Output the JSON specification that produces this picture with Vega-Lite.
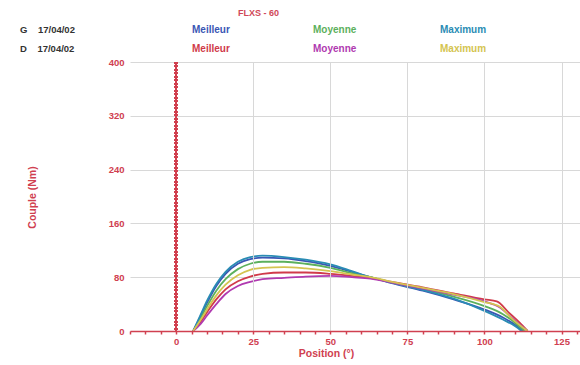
{
  "$schema": "https://vega.github.io/schema/vega-lite/v6.json",
  "width": 450,
  "height": 269,
  "autosize": "none",
  "padding": {"left": 130, "top": 62, "right": 0, "bottom": 34},
  "background": "white",
  "config": {"view": {"stroke": null}, "font": "Liberation Sans"},
  "title": {"text": "FLXS - 60", "anchor": "start", "frame": "group", "dx": 108, "offset": 7, "fontSize": 9, "color": "#d04858", "fontWeight": "bold"},
  "data": {"values": [
    {"s":"Meilleur G","x":5.5,"y":0},{"s":"Meilleur G","x":8,"y":23},{"s":"Meilleur G","x":10,"y":42},{"s":"Meilleur G","x":13,"y":67},{"s":"Meilleur G","x":16,"y":85},{"s":"Meilleur G","x":20,"y":100},{"s":"Meilleur G","x":24,"y":107},{"s":"Meilleur G","x":28,"y":109},{"s":"Meilleur G","x":35,"y":108},{"s":"Meilleur G","x":42,"y":104},{"s":"Meilleur G","x":50,"y":97},{"s":"Meilleur G","x":57,"y":88},{"s":"Meilleur G","x":63,"y":80},{"s":"Meilleur G","x":70,"y":71},{"s":"Meilleur G","x":80,"y":60},{"s":"Meilleur G","x":90,"y":47},{"s":"Meilleur G","x":100,"y":32},{"s":"Meilleur G","x":106,"y":20},{"s":"Meilleur G","x":110,"y":9},{"s":"Meilleur G","x":112.5,"y":0},
    {"s":"Moyenne G","x":5.5,"y":0},{"s":"Moyenne G","x":8,"y":20},{"s":"Moyenne G","x":10,"y":37},{"s":"Moyenne G","x":13,"y":60},{"s":"Moyenne G","x":16,"y":77},{"s":"Moyenne G","x":20,"y":92},{"s":"Moyenne G","x":24,"y":100},{"s":"Moyenne G","x":28,"y":103},{"s":"Moyenne G","x":35,"y":103},{"s":"Moyenne G","x":42,"y":100},{"s":"Moyenne G","x":50,"y":94},{"s":"Moyenne G","x":57,"y":86},{"s":"Moyenne G","x":63,"y":80},{"s":"Moyenne G","x":70,"y":72},{"s":"Moyenne G","x":80,"y":62},{"s":"Moyenne G","x":90,"y":51},{"s":"Moyenne G","x":100,"y":37},{"s":"Moyenne G","x":106,"y":25},{"s":"Moyenne G","x":110,"y":12},{"s":"Moyenne G","x":113,"y":0},
    {"s":"Maximum G","x":5.5,"y":0},{"s":"Maximum G","x":8,"y":25},{"s":"Maximum G","x":10,"y":45},{"s":"Maximum G","x":13,"y":70},{"s":"Maximum G","x":16,"y":88},{"s":"Maximum G","x":20,"y":103},{"s":"Maximum G","x":24,"y":110},{"s":"Maximum G","x":28,"y":112},{"s":"Maximum G","x":35,"y":110},{"s":"Maximum G","x":42,"y":106},{"s":"Maximum G","x":50,"y":99},{"s":"Maximum G","x":57,"y":89},{"s":"Maximum G","x":63,"y":80},{"s":"Maximum G","x":70,"y":72},{"s":"Maximum G","x":80,"y":61},{"s":"Maximum G","x":90,"y":48},{"s":"Maximum G","x":100,"y":30},{"s":"Maximum G","x":106,"y":17},{"s":"Maximum G","x":110,"y":7},{"s":"Maximum G","x":112,"y":0},
    {"s":"Meilleur D","x":5.5,"y":0},{"s":"Meilleur D","x":8,"y":14},{"s":"Meilleur D","x":10,"y":28},{"s":"Meilleur D","x":13,"y":47},{"s":"Meilleur D","x":16,"y":62},{"s":"Meilleur D","x":20,"y":74},{"s":"Meilleur D","x":24,"y":81},{"s":"Meilleur D","x":28,"y":85},{"s":"Meilleur D","x":35,"y":87},{"s":"Meilleur D","x":42,"y":87},{"s":"Meilleur D","x":50,"y":85},{"s":"Meilleur D","x":57,"y":82},{"s":"Meilleur D","x":63,"y":79},{"s":"Meilleur D","x":70,"y":73},{"s":"Meilleur D","x":80,"y":65},{"s":"Meilleur D","x":90,"y":56},{"s":"Meilleur D","x":100,"y":47},{"s":"Meilleur D","x":104,"y":44},{"s":"Meilleur D","x":108,"y":27},{"s":"Meilleur D","x":111.5,"y":12},{"s":"Meilleur D","x":114,"y":0},
    {"s":"Moyenne D","x":5.5,"y":0},{"s":"Moyenne D","x":8,"y":11},{"s":"Moyenne D","x":10,"y":23},{"s":"Moyenne D","x":13,"y":40},{"s":"Moyenne D","x":16,"y":55},{"s":"Moyenne D","x":20,"y":67},{"s":"Moyenne D","x":24,"y":73},{"s":"Moyenne D","x":28,"y":77},{"s":"Moyenne D","x":35,"y":79},{"s":"Moyenne D","x":42,"y":81},{"s":"Moyenne D","x":50,"y":82},{"s":"Moyenne D","x":57,"y":80},{"s":"Moyenne D","x":63,"y":78},{"s":"Moyenne D","x":70,"y":72},{"s":"Moyenne D","x":80,"y":63},{"s":"Moyenne D","x":90,"y":54},{"s":"Moyenne D","x":100,"y":44},{"s":"Moyenne D","x":105,"y":35},{"s":"Moyenne D","x":109,"y":19},{"s":"Moyenne D","x":114,"y":0},
    {"s":"Maximum D","x":5.5,"y":0},{"s":"Maximum D","x":8,"y":17},{"s":"Maximum D","x":10,"y":32},{"s":"Maximum D","x":13,"y":53},{"s":"Maximum D","x":16,"y":69},{"s":"Maximum D","x":20,"y":83},{"s":"Maximum D","x":24,"y":91},{"s":"Maximum D","x":28,"y":94},{"s":"Maximum D","x":35,"y":95},{"s":"Maximum D","x":42,"y":93},{"s":"Maximum D","x":50,"y":89},{"s":"Maximum D","x":57,"y":84},{"s":"Maximum D","x":63,"y":80},{"s":"Maximum D","x":70,"y":73},{"s":"Maximum D","x":80,"y":64},{"s":"Maximum D","x":90,"y":55},{"s":"Maximum D","x":100,"y":43},{"s":"Maximum D","x":105,"y":36},{"s":"Maximum D","x":109,"y":18},{"s":"Maximum D","x":114,"y":0}
  ]},
  "layer": [
    {
      "mark": {"type": "rule", "color": "#d04050", "strokeWidth": 3, "strokeDash": [1.5, 2]},
      "encoding": {"x": {"datum": 0, "type": "quantitative"}}
    },
    {
      "mark": {"type": "rule", "color": "#d04050", "strokeWidth": 1},
      "encoding": {"x": {"datum": 0, "type": "quantitative"}}
    },
    {
      "mark": {"type": "line", "strokeWidth": 1.8, "interpolate": "monotone"},
      "encoding": {
        "x": {"field": "x", "type": "quantitative", "scale": {"domain": [-15, 131], "nice": false, "zero": false},
          "axis": {"values": [-15,-10,-5,0,5,10,15,20,25,30,35,40,45,50,55,60,65,70,75,80,85,90,95,100,105,110,115,120,125,130],
            "tickCount": 100,
            "labelExpr": "datum.value % 25 === 0 ? datum.label : ''",
            "labelOverlap": false, "labelFlush": false,
            "grid": true, "gridColor": "#d8d8d8",
            "gridOpacity": {"condition": {"test": "datum.value % 25 === 0 && datum.value !== 0", "value": 1}, "value": 0},
            "domainColor": "#d04050", "domainWidth": 1.5, "tickColor": "#d04050", "tickSize": 3, "tickWidth": 1.5,
            "labelColor": "#d04050", "labelFontSize": 9.5, "labelFontWeight": "bold", "labelPadding": 2,
            "title": "Position (°)", "titleColor": "#d04050", "titleFontSize": 10.5, "titleFontWeight": "bold",
            "titleX": 196, "titleY": 17, "titleAnchor": "middle", "zindex": 1}},
        "y": {"field": "y", "type": "quantitative", "scale": {"domain": [0, 400], "nice": false},
          "axis": {"values": [0, 80, 160, 240, 320, 400], "tickCount": 100, "grid": true, "gridColor": "#d8d8d8", "domain": false, "ticks": false,
            "labelColor": "#d04050", "labelFontSize": 9.5, "labelFontWeight": "bold", "labelPadding": 6,
            "title": "Couple (Nm)", "titleColor": "#d04050", "titleFontSize": 10.5, "titleFontWeight": "bold",
            "titleX": -93, "titleY": 135, "titleAnchor": "middle"}},
        "color": {"field": "s", "type": "nominal",
          "scale": {"domain": ["Meilleur G", "Moyenne G", "Maximum G", "Meilleur D", "Moyenne D", "Maximum D"],
                    "range": ["#3a56b4", "#5cb05c", "#2a8cb4", "#d03a4a", "#b03ab0", "#d4c450"]},
          "legend": {"orient": "none", "legendX": -110, "legendY": -37, "columns": 3, "direction": "horizontal",
            "title": ["G\u00a0\u00a0\u00a0\u00a017/04/02", "D\u00a0\u00a0\u00a0\u00a017/04/02"], "titleOrient": "left", "titleFontSize": 9.5, "titleFontWeight": "bold",
            "titleColor": "#333333", "titleLineHeight": 19, "titlePadding": 107, "titleBaseline": "top", "titleAnchor": "start",
            "symbolSize": 0, "symbolStrokeWidth": 0, "labelOffset": 0, "labelFontSize": 10, "labelFontWeight": "bold",
            "columnPadding": 73, "rowPadding": 9,
            "labelExpr": "split(datum.label, ' ')[0]",
            "encode": {"labels": {"update": {"fill": {"scale": "color", "field": "value"}}}}}}
      }
    }
  ]
}
